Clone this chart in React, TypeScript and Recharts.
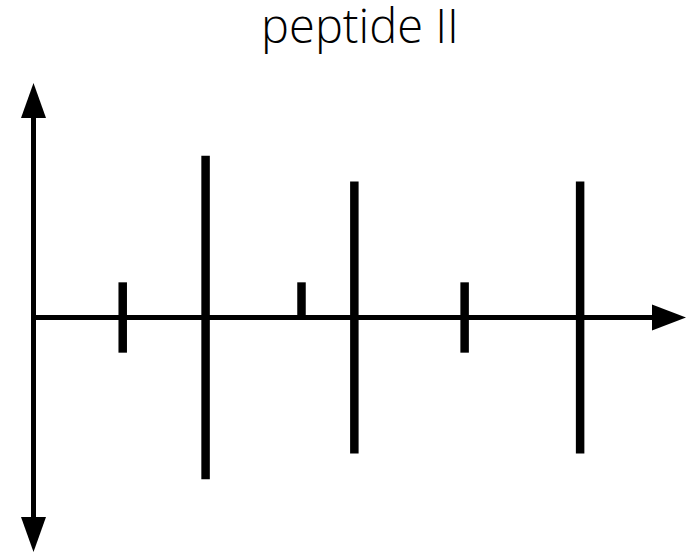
import React from "react";
import { ComposedChart, Bar, XAxis, YAxis, ReferenceLine } from "recharts";

// Fragment positions along the sequence axis and their signed intensities
const fragmentPositions = [13.7, 26.4, 41.1, 49.2, 66.1, 83.8];
const upperIntensity = [15, 69, 15, 58, 15, 58];
const lowerIntensity = [-15, -69, 0, -58, -15, -58];
const chartTitle = "peptide II";

const data = fragmentPositions.map((pos, i) => ({
  pos,
  range: [lowerIntensity[i], upperIntensity[i]],
}));

const AXIS_W = 5;

// Horizontal axis with a single arrowhead at the right end
const HorizontalArrow = (props: any) => {
  const { x1, y1, x2 } = props;
  const left = Math.min(x1, x2);
  const right = Math.max(x1, x2);
  const head = 34;
  const half = 13;
  return (
    <g>
      <line x1={left} y1={y1} x2={right - head + 1} y2={y1} stroke="#000" strokeWidth={AXIS_W} />
      <polygon
        points={`${right - head},${y1 - half} ${right},${y1} ${right - head},${y1 + half}`}
        fill="#000"
      />
    </g>
  );
};

// Vertical axis with arrowheads at both ends
const VerticalArrow = (props: any) => {
  const { x1, y1, y2 } = props;
  const top = Math.min(y1, y2);
  const bottom = Math.max(y1, y2);
  const head = 35;
  const half = 12.5;
  return (
    <g>
      <line x1={x1} y1={top + head - 1} x2={x1} y2={bottom - head + 1} stroke="#000" strokeWidth={AXIS_W} />
      <polygon
        points={`${x1 - half},${top + head} ${x1},${top} ${x1 + half},${top + head}`}
        fill="#000"
      />
      <polygon
        points={`${x1 - half},${bottom - head} ${x1},${bottom} ${x1 + half},${bottom - head}`}
        fill="#000"
      />
    </g>
  );
};

export default function App() {
  return (
    <div style={{ position: "absolute", left: 0, top: 0, width: 690, height: 552, background: "#fff" }}>
      <svg
        width={690}
        height={80}
        style={{ position: "absolute", left: 0, top: 0, overflow: "visible" }}
      >
        <text
          x={360}
          y={43}
          textAnchor="middle"
          fontFamily="'Open Sans', sans-serif"
          fontWeight={300}
          fontSize={47}
          fill="#000"
        >
          {chartTitle}
        </text>
      </svg>
      <ComposedChart
        width={690}
        height={552}
        data={data}
        margin={{ top: 83, right: 4, bottom: 0, left: 33.5 }}
      >
        <XAxis type="number" dataKey="pos" domain={[0, 100]} hide />
        <YAxis type="number" domain={[-100, 100]} hide />
        <Bar dataKey="range" fill="#000" barSize={8.5} isAnimationActive={false} />
        <ReferenceLine
          segment={[{ x: 0, y: 0 }, { x: 100, y: 0 }]}
          ifOverflow="visible"
          shape={HorizontalArrow}
        />
        <ReferenceLine
          segment={[{ x: 0, y: -100 }, { x: 0, y: 100 }]}
          ifOverflow="visible"
          shape={VerticalArrow}
        />
      </ComposedChart>
    </div>
  );
}
